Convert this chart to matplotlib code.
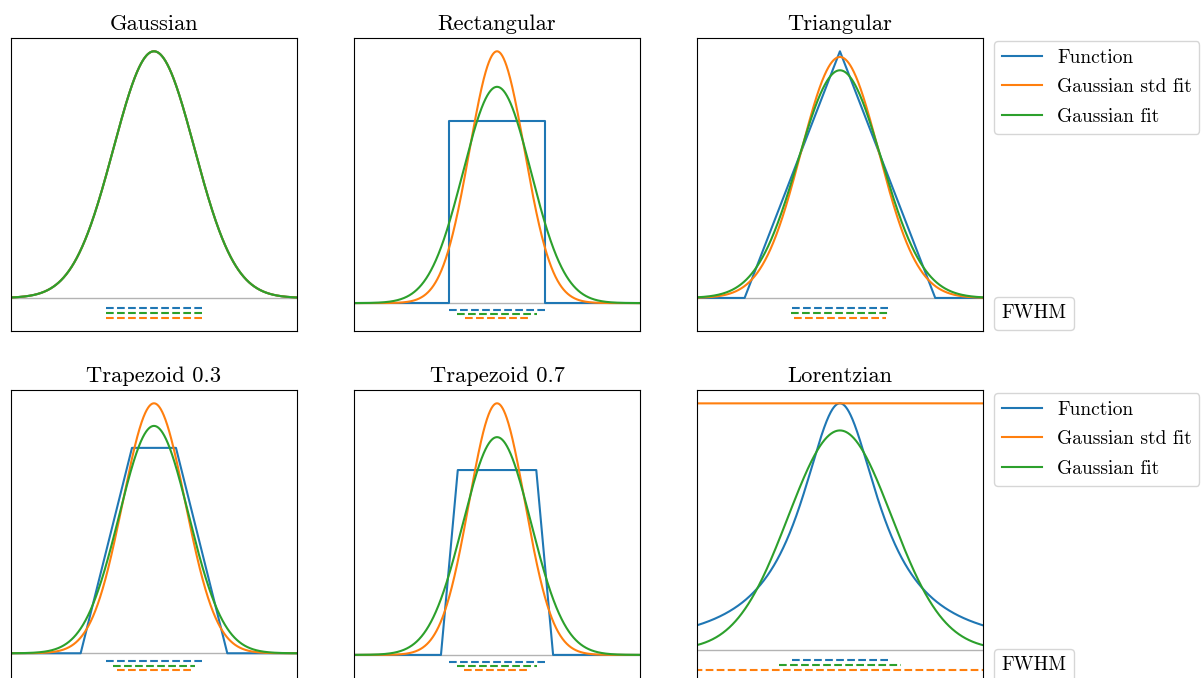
import matplotlib
matplotlib.use("Agg")
import matplotlib.pyplot as plt
import numpy as np
from matplotlib.lines import Line2D

plt.rcParams["font.family"] = "serif"
plt.rcParams["font.serif"] = ["cmr10"]
plt.rcParams["mathtext.fontset"] = "cm"
plt.rcParams["axes.unicode_minus"] = False
plt.rcParams["font.size"] = 14

titles = ["Gaussian", "Rectangular", "Triangular",
          "Trapezoid 0.3", "Trapezoid 0.7", "Lorentzian"]
shapes = ["gauss", "trap", "trap", "trap", "trap", "lorentz"]
top_ratio = [0.0, 1.0, 0.0, 0.3, 0.7, 0.0]
func_fwhm = [2.0, 2.0, 2.0, 2.0, 2.0, 2.0]
# gaussian fits, peak relative to the function peak
std_peak = [1.0, 1.382, 0.977, 1.217, 1.361, 1.0]
std_fwhm = [2.0, 1.36, 1.92, 1.54, 1.38, 300.0]
fit_peak = [1.0, 1.187, 0.923, 1.107, 1.178, 0.89]
fit_fwhm = [2.0, 1.68, 2.06, 1.72, 1.68, 2.56]
# vertical offsets of the FWHM bars (function, fit, std fit)
bar_offsets = [-0.04, -0.06, -0.08]
x_half = 3.0

C_FUNC, C_STD, C_FIT = "tab:blue", "tab:orange", "tab:green"


def gauss(x, peak, fwhm):
    return peak * np.exp(-4 * np.log(2) * x ** 2 / fwhm ** 2)


def function_curve(i, x):
    if shapes[i] == "gauss":
        return x, gauss(x, 1.0, func_fwhm[i])
    if shapes[i] == "lorentz":
        g = func_fwhm[i] / 2
        return x, 1.0 / (1 + (x / g) ** 2)
    b = func_fwhm[i] / (1 + top_ratio[i])
    a = top_ratio[i] * b
    return (np.array([-x_half, -b, -a, a, b, x_half]),
            np.array([0, 0, 1, 1, 0, 0.0]))


fig = plt.figure(figsize=(12.01, 6.78), dpi=100)
lefts = [0.00916, 0.2948, 0.5803]
bottoms = [0.5118, -0.0074]
w, h = 0.2381, 0.4322

x = np.linspace(-x_half, x_half, 1201)
for i, title in enumerate(titles):
    ax = fig.add_axes([lefts[i % 3], bottoms[i // 3], w, h])
    ax.axhline(0, color="0.7", lw=1)
    fx, fy = function_curve(i, x)
    l1, = ax.plot(fx, fy, color=C_FUNC, lw=1.5, label="Function")
    l2, = ax.plot(x, gauss(x, std_peak[i], std_fwhm[i]), color=C_STD,
                  lw=1.5, label="Gaussian std fit")
    l3, = ax.plot(x, gauss(x, fit_peak[i], fit_fwhm[i]), color=C_FIT,
                  lw=1.5, label="Gaussian fit")
    for wd, off, c in zip([func_fwhm[i], fit_fwhm[i], std_fwhm[i]],
                          bar_offsets, [C_FUNC, C_FIT, C_STD]):
        ax.plot([-wd / 2, wd / 2], [off, off], "--", color=c, lw=1.5)
    ax.set_xlim(-x_half, x_half)
    ax.set_xticks([])
    ax.set_yticks([])
    ax.set_title(title, fontsize=16.2)
    if i % 3 == 2:
        leg = ax.legend(handles=[l1, l2, l3], loc="upper left",
                        bbox_to_anchor=(1.038, 0.99), borderaxespad=0,
                        handlelength=2.1, handletextpad=0.75,
                        labelspacing=0.6)
        ax.add_artist(leg)
        ax.legend([Line2D([], [], alpha=0)], ["FWHM"], handlelength=0,
                  handletextpad=0, loc="lower left",
                  bbox_to_anchor=(1.038, 0.003), borderaxespad=0)

fig.savefig("out.png", dpi=100)
